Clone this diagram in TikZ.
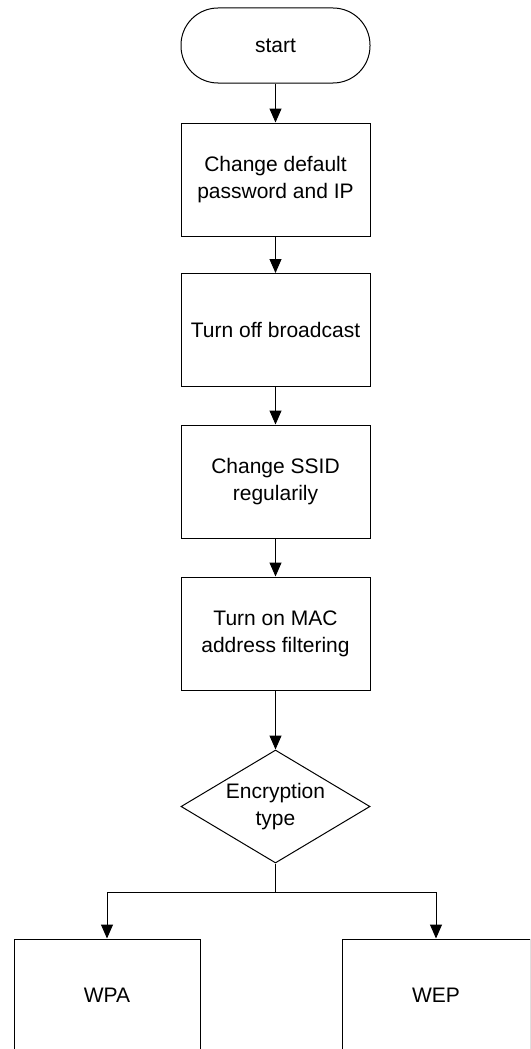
\documentclass[tikz,border=0pt]{standalone}
\usepackage{fontspec}
\setmainfont{Liberation Sans}
\usetikzlibrary{arrows.meta,shapes.geometric}
\begin{document}
\begin{tikzpicture}[x=1pt,y=-1pt,
  every node/.style={font=\fontsize{21}{27}\selectfont, align=center, inner sep=0pt},
  stepbox/.style={draw, line width=1pt, minimum width=189pt, minimum height=113pt},
  termbox/.style={draw, line width=1pt, rounded corners=37pt, minimum width=189pt, minimum height=75pt},
  decbox/.style={draw, line width=1pt, shape=diamond, aspect=1.673, minimum width=189pt, minimum height=113pt},
  arr/.style={line width=1pt, -{Triangle[width=12pt,length=14pt]}},
  ln/.style={line width=1pt}]
\useasboundingbox (0,0) rectangle (530,1049);
\clip (0,0) rectangle (530,1049);
\node[termbox] (start) at (275.5,45.5) {start};
\node[stepbox] (b1) at (275.5,179.5) {Change default\\password and IP};
\node[stepbox] (b2) at (275.5,330) {Turn off broadcast};
\node[stepbox] (b3) at (275.5,481.5) {Change SSID\\regularily};
\node[stepbox] (b4) at (275.5,633.5) {Turn on MAC\\address filtering};
\node[decbox] (d) at (275.5,806.5) {Encryption\\type};
\node[stepbox, minimum width=186pt] (wpa) at (107,995.5) {WPA};
\node[stepbox, minimum width=188pt] (wep) at (436,995.5) {WEP};
\draw[arr] (start) -- (b1);
\draw[arr] (b1) -- (b2);
\draw[arr] (b2) -- (b3);
\draw[arr] (b3) -- (b4);
\draw[arr] (b4) -- (d);
\draw[ln] (d.south) -- ++(0,29) coordinate (br);
\draw[arr] (br) -| (wpa.north);
\draw[arr] (br) -| (wep.north);
\end{tikzpicture}
\end{document}
